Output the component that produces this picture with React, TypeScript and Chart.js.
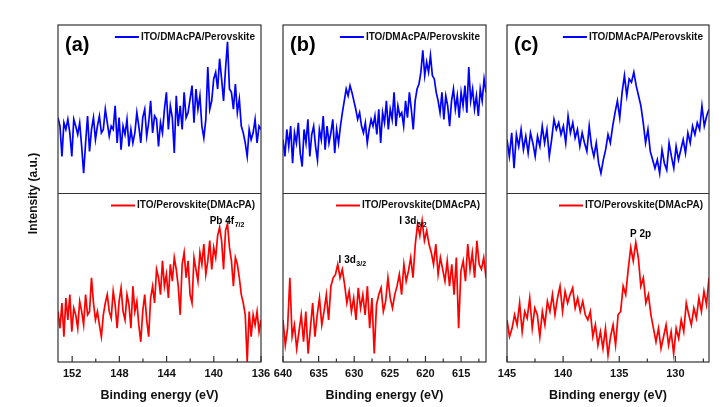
import React, { useEffect, useRef } from "react";
import { Chart, registerables } from "chart.js";
Chart.register(...registerables);

// Panel (a) Pb 4f
const aRange = [153.2, 136];
const aTicks = [152, 148, 144, 140, 136];
const aTop = [45,40,22,42,38,44,36,22,44,40,35,42,28,12,30,46,25,38,45,32,
  40,46,36,38,50,42,34,40,38,52,30,45,26,40,35,44,28,38,30,36,
  48,40,30,45,50,34,42,55,36,46,44,28,42,36,50,60,38,52,45,24,
  58,40,52,38,60,45,48,56,64,42,62,50,58,40,33,44,75,50,55,68,
  72,62,80,68,55,74,90,62,60,50,65,48,56,40,36,30,22,38,32,36,44,30,40,38];
const aBot = [30,20,35,15,38,25,40,18,32,28,20,36,30,22,40,28,30,50,35,25,
  30,22,15,28,35,40,30,26,42,34,20,36,44,30,25,40,34,20,45,30,
  36,22,12,30,40,25,15,38,45,35,55,50,40,60,45,52,38,58,48,62,
  55,45,28,58,65,50,60,40,35,62,55,48,65,58,70,52,60,72,55,68,
  62,75,80,72,55,78,82,68,60,45,62,58,50,40,35,28,0,30,15,28,22,30,18,25];
// Panel (b) I 3d
const bRange = [640, 611.5];
const bTicks = [640, 635, 630, 625, 620, 615];
const bTop = [32,22,38,28,40,18,36,30,42,24,16,38,30,44,22,35,40,28,20,38,32,46,26,40,30,36,44,24,38,30,
  40,48,55,62,58,64,60,55,
  50,44,48,40,36,42,30,38,44,
  40,46,35,50,30,48,42,55,38,50,44,60,40,52,46,
  48,40,55,45,60,50,38,55,62,65,
  72,85,70,78,72,82,70,68,60,
  55,48,60,44,58,52,40,55,62,50,58,45,60,52,64,48,75,55,62,50,58,46,62,55,68,60];
const bBot = [25,10,20,50,15,22,8,18,28,12,30,5,20,35,15,28,38,22,30,40,25,
  45,50,52,58,50,55,46,
  35,42,30,38,25,44,32,40,28,45,20,38,5,34,
  40,44,30,36,50,38,32,40,
  45,52,40,58,48,54,62,50,
  70,82,75,84,72,78,70,
  65,58,70,52,62,55,48,60,45,58,40,62,20,54,60,48,70,55,65,50,72,58,55,62,50];
// Panel (c) P 2p
const cRange = [145, 127];
const cTicks = [145, 140, 135, 130];
const cTop = [32,22,36,15,35,28,38,26,34,24,36,30,22,34,28,40,30,38,22,32,
  44,38,42,35,40,30,46,36,42,33,38,28,
  36,30,25,40,28,22,30,18,12,20,
  26,35,30,40,48,55,45,60,
  70,58,68,66,72,64,58,
  52,42,30,38,25,20,
  15,20,12,26,18,14,30,22,15,28,20,26,32,24,36,30,40,35,42,38,52,40,46,50];
const cBot = [25,15,20,28,22,35,18,30,26,38,20,32,28,15,30,22,36,30,40,28,
  38,45,30,42,35,40,44,32,38,30,36,28,
  25,30,15,22,10,18,8,20,4,15,
  22,10,28,30,45,40,
  55,68,60,71,62,
  45,50,35,40,28,20,
  12,20,8,15,22,10,18,5,20,14,25,18,35,28,22,32,26,38,30,42,34,50];

const topLabel = "ITO/DMAcPA/Perovskite";
const botLabel = "ITO/Perovskite(DMAcPA)";

type Ann = { x: number; y: number; main: string; sub: string };
type Panel = { tag: string; range: number[]; ticks: number[]; top: number[]; bot: number[]; step: number; left: number; right: number; anns: Ann[]; ytitle: boolean };

const panels: Panel[] = [
  { tag: "(a)", range: aRange, ticks: aTicks, top: aTop, bot: aBot, step: 4, left: 58, right: 261, ytitle: true,
    anns: [{ x: 138.9, y: 82, main: "Pb 4f", sub: "7/2" }] },
  { tag: "(b)", range: bRange, ticks: bTicks, top: bTop, bot: bBot, step: 5, left: 283, right: 486, ytitle: false,
    anns: [{ x: 630.3, y: 59, main: "I 3d", sub: "3/2" }, { x: 621.8, y: 82, main: "I 3d", sub: "5/2" }] },
  { tag: "(c)", range: cRange, ticks: cTicks, top: cTop, bot: cBot, step: 5, left: 507, right: 709, ytitle: false,
    anns: [{ x: 133.1, y: 74, main: "P 2p", sub: "" }] },
];

const W = 723, H = 407;
const OFFSET = 100;
const FONT = "'Liberation Sans', Arial, sans-serif";

function pts(range: number[], vals: number[], off: number) {
  const n = vals.length;
  return vals.map((v, i) => ({ x: range[0] + ((range[1] - range[0]) * i) / (n - 1), y: v + off }));
}

function PanelChart({ p }: { p: Panel }) {
  const ref = useRef<HTMLCanvasElement>(null);
  useEffect(() => {
    const frame = {
      id: "frame",
      afterDraw(chart: any) {
        const { ctx, chartArea: a, scales } = chart;
        const xs = scales.x, ys = scales.y;
        ctx.save();
        ctx.strokeStyle = "#333";
        ctx.lineWidth = 1.2;
        ctx.strokeRect(a.left, a.top, a.right - a.left, a.bottom - a.top);
        const mid = ys.getPixelForValue(OFFSET);
        ctx.beginPath(); ctx.moveTo(a.left, mid); ctx.lineTo(a.right, mid); ctx.stroke();
        const lo = Math.min(...p.range), hi = Math.max(...p.range);
        const half = p.step / 2;
        for (let v = Math.ceil(lo / half) * half; v <= hi + 1e-9; v += half) {
          const px = xs.getPixelForValue(v);
          const major = Math.abs(v / p.step - Math.round(v / p.step)) < 1e-6;
          ctx.beginPath(); ctx.moveTo(px, a.bottom); ctx.lineTo(px, a.bottom - (major ? 6 : 3.5)); ctx.stroke();
        }
        ctx.font = `bold 10px ${FONT}`;
        ctx.textBaseline = "middle";
        const leg = (label: string, color: string, y: number) => {
          const tw = ctx.measureText(label).width;
          const tx = a.right - 6 - tw;
          ctx.fillStyle = "#111"; ctx.textAlign = "left";
          ctx.fillText(label, tx, y);
          ctx.strokeStyle = color; ctx.lineWidth = 2;
          ctx.beginPath(); ctx.moveTo(tx - 26, y); ctx.lineTo(tx - 2, y); ctx.stroke();
        };
        leg(topLabel, "#0000ff", a.top + 12);
        leg(botLabel, "#ff0000", mid + 12);
        ctx.fillStyle = "#000";
        ctx.font = `bold 20px ${FONT}`;
        ctx.textBaseline = "alphabetic";
        ctx.fillText(p.tag, a.left + 7, a.top + 26);
        for (const an of p.anns) {
          const px = xs.getPixelForValue(an.x), py = ys.getPixelForValue(an.y);
          ctx.font = `bold 10px ${FONT}`;
          const w1 = ctx.measureText(an.main).width;
          ctx.font = `bold 7px ${FONT}`;
          const w2 = an.sub ? ctx.measureText(an.sub).width : 0;
          const sx = px - (w1 + w2) / 2;
          ctx.font = `bold 10px ${FONT}`;
          ctx.fillText(an.main, sx, py);
          if (an.sub) {
            ctx.font = `bold 7px ${FONT}`;
            ctx.fillText(an.sub, sx + w1 + 0.5, py + 3);
          }
        }
        if (p.ytitle) {
          ctx.save();
          ctx.translate(34, (a.top + a.bottom) / 2);
          ctx.rotate(-Math.PI / 2);
          ctx.font = `bold 12px ${FONT}`;
          ctx.textAlign = "center"; ctx.textBaseline = "middle";
          ctx.fillStyle = "#111";
          ctx.fillText("Intensity (a.u.)", 0, 0);
          ctx.restore();
        }
        ctx.restore();
      },
    };
    const lo = Math.min(...p.range), hi = Math.max(...p.range);
    const chart = new Chart(ref.current!, {
      type: "line",
      data: {
        datasets: [
          { data: pts(p.range, p.top, OFFSET), borderColor: "#0000ff", borderWidth: 1.7, pointRadius: 0, tension: 0 },
          { data: pts(p.range, p.bot, 0), borderColor: "#ff0000", borderWidth: 1.7, pointRadius: 0, tension: 0 },
        ],
      },
      options: {
        animation: false,
        responsive: false,
        layout: { padding: { left: p.left, right: W - p.right, top: 25, bottom: 0 } },
        plugins: { legend: { display: false }, tooltip: { enabled: false } },
        scales: {
          x: {
            type: "linear", min: lo, max: hi, reverse: true,
            grid: { display: false, drawTicks: false },
            border: { display: false },
            afterBuildTicks: (s: any) => { s.ticks = p.ticks.map((v) => ({ value: v })); },
            afterFit: (s: any) => { s.height = H - 362; },
            ticks: { padding: 5, color: "#111", font: { size: 11, weight: "bold", family: FONT }, maxRotation: 0, autoSkip: false },
            title: { display: true, text: "Binding energy (eV)", color: "#111", padding: { top: 4 }, font: { size: 12.5, weight: "bold", family: FONT } },
          },
          y: { display: false, min: 0, max: 200 },
        },
      },
      plugins: [frame],
    } as any);
    return () => chart.destroy();
  }, [p]);
  return <canvas ref={ref} width={W} height={H} style={{ position: "absolute", left: 0, top: 0, width: W, height: H }} />;
}

export default function App() {
  useEffect(() => { document.body.style.margin = "0"; }, []);
  return (
    <div style={{ position: "relative", width: W, height: H, background: "#fff" }}>
      {panels.map((p) => <PanelChart key={p.tag} p={p} />)}
    </div>
  );
}
